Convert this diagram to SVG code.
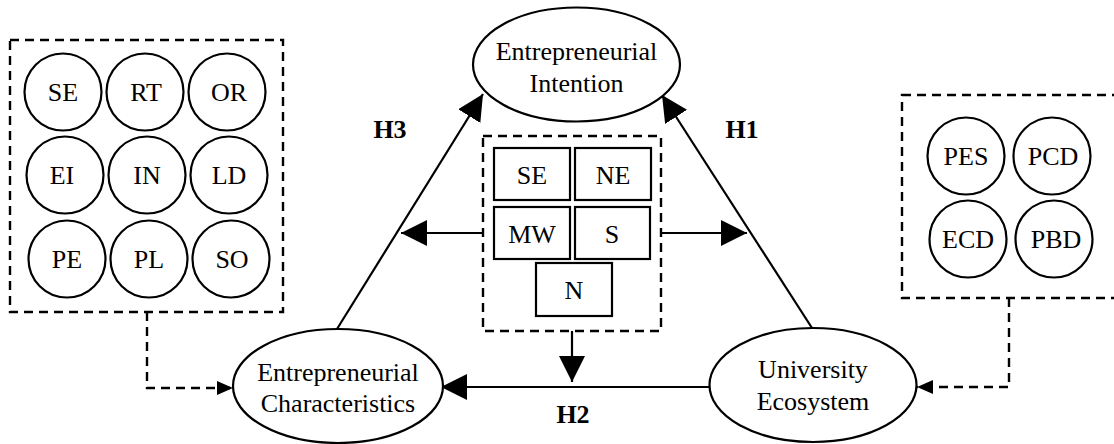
<svg xmlns="http://www.w3.org/2000/svg" width="1114" height="444" viewBox="0 0 1114 444" font-family="Liberation Serif, Times New Roman, serif" font-size="26">
<style>
text{font-family:"Liberation Serif","Times New Roman",serif;font-size:26px;fill:#000;text-anchor:middle}
.b{font-weight:bold}
.n{fill:#fff;stroke:#000;stroke-width:2.2}
.d{fill:none;stroke:#000;stroke-width:2.4;stroke-dasharray:9 6}
.l{fill:none;stroke:#000;stroke-width:2.2}
</style>
<defs>
<marker id="big" markerUnits="userSpaceOnUse" markerWidth="26" markerHeight="26" refX="26" refY="13" orient="auto"><path d="M0,0 L26,13 L0,26 Z" fill="#000"/></marker>
<marker id="sm" markerUnits="userSpaceOnUse" markerWidth="16" markerHeight="14" refX="16" refY="7" orient="auto"><path d="M0,0 L16,7 L0,14 Z" fill="#000"/></marker>
</defs>
<g id="connectors">
<line class="l" x1="337" y1="329" x2="483" y2="94" marker-end="url(#big)"/>
<line class="l" x1="812" y1="328" x2="662" y2="95" marker-end="url(#big)"/>
<line class="l" x1="710" y1="387" x2="441" y2="387" marker-end="url(#big)"/>
<line class="l" x1="483" y1="233" x2="401" y2="233" marker-end="url(#big)"/>
<line class="l" x1="661" y1="233" x2="747" y2="233" marker-end="url(#big)"/>
<line class="l" x1="572" y1="331" x2="572" y2="382" marker-end="url(#big)"/>
<polyline class="d" points="147,312 147,388 233,388" marker-end="url(#sm)"/>
<polyline class="d" points="1009,298 1009,387 917,387" marker-end="url(#sm)"/>
<text class="b" x="390" y="138">H3</text>
<text class="b" x="742" y="138">H1</text>
<text class="b" x="573" y="423">H2</text>
</g>
<g id="characteristics-group">
<rect class="d" x="10" y="40" width="273" height="272"/>
<g id="c-SE"><circle class="n" cx="63" cy="92" r="38.5"/><text x="63" y="101">SE</text></g>
<g id="c-RT"><circle class="n" cx="145" cy="92" r="38.5"/><text x="146" y="101">RT</text></g>
<g id="c-OR"><circle class="n" cx="227" cy="92" r="38.5"/><text x="229" y="101">OR</text></g>
<g id="c-EI"><circle class="n" cx="65" cy="175" r="38.5"/><text x="62" y="184">EI</text></g>
<g id="c-IN"><circle class="n" cx="147" cy="175" r="38.5"/><text x="147" y="184">IN</text></g>
<g id="c-LD"><circle class="n" cx="229" cy="175" r="38.5"/><text x="229" y="184">LD</text></g>
<g id="c-PE"><circle class="n" cx="67" cy="259" r="38.5"/><text x="67" y="268">PE</text></g>
<g id="c-PL"><circle class="n" cx="149" cy="259" r="38.5"/><text x="149" y="268">PL</text></g>
<g id="c-SO"><circle class="n" cx="231" cy="259" r="38.5"/><text x="232" y="268">SO</text></g>
</g>
<g id="ecosystem-group">
<rect class="d" x="902" y="95" width="240" height="203"/>
<g id="c-PES"><circle class="n" cx="966" cy="156" r="38.5"/><text x="966" y="165">PES</text></g>
<g id="c-PCD"><circle class="n" cx="1052" cy="156" r="38.5"/><text x="1053" y="165">PCD</text></g>
<g id="c-ECD"><circle class="n" cx="968" cy="239" r="38.5"/><text x="968" y="248">ECD</text></g>
<g id="c-PBD"><circle class="n" cx="1054" cy="239" r="38.5"/><text x="1056" y="248">PBD</text></g>
</g>
<g id="moderators">
<rect class="d" x="483" y="136" width="178" height="195"/>
<g id="b-SE"><rect class="n" x="494" y="148" width="76" height="52"/><text x="532" y="184">SE</text></g>
<g id="b-NE"><rect class="n" x="575" y="148" width="76" height="52"/><text x="613" y="184">NE</text></g>
<g id="b-MW"><rect class="n" x="494" y="207" width="76" height="52"/><text x="532" y="243">MW</text></g>
<g id="b-S"><rect class="n" x="575" y="207" width="75" height="52"/><text x="612" y="243">S</text></g>
<g id="b-N"><rect class="n" x="536" y="263" width="76" height="53"/><text x="574" y="299">N</text></g>
</g>
<g id="intention"><ellipse class="n" cx="576.5" cy="64.5" rx="103.5" ry="57"/><text x="576.5" y="60">Entrepreneurial</text><text x="576.5" y="92">Intention</text></g>
<g id="characteristics"><ellipse class="n" cx="338" cy="386" rx="105" ry="57"/><text x="338" y="381">Entrepreneurial</text><text x="338" y="412">Characteristics</text></g>
<g id="ecosystem"><ellipse class="n" cx="813" cy="385" rx="103.5" ry="57"/><text x="813" y="378">University</text><text x="813" y="410">Ecosystem</text></g>
</svg>
